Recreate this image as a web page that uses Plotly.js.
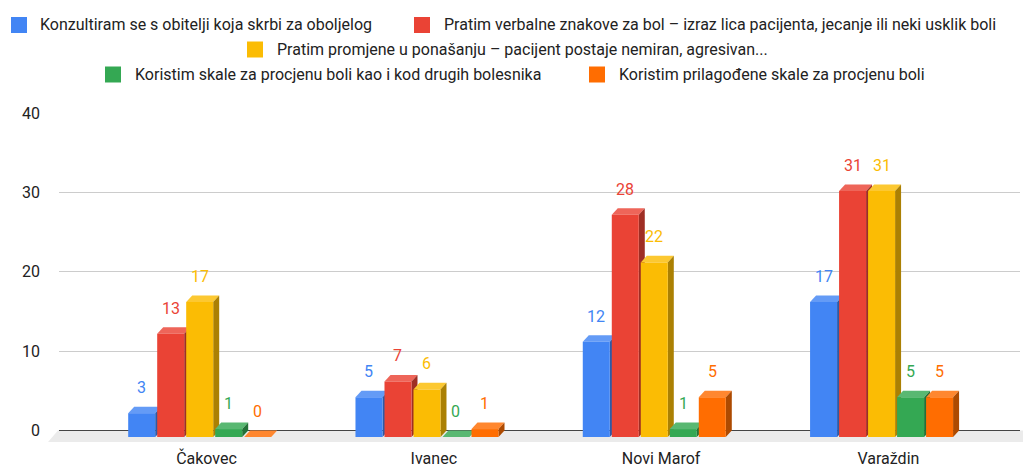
<!DOCTYPE html>
<html>
<head>
<meta charset="utf-8">
<script src="https://cdn.plot.ly/plotly-3.0.1.min.js"></script>
<style>html,body{margin:0;padding:0;background:#fff;}#chart{width:1023px;height:468px;}</style>
</head>
<body>
<div id="chart"></div>
<script>
// ---- data ----
const categories = ['Čakovec', 'Ivanec', 'Novi Marof', 'Varaždin'];
const seriesNames = [
  'Konzultiram se s obitelji koja skrbi za oboljelog',
  'Pratim verbalne znakove za bol – izraz lica pacijenta, jecanje ili neki usklik boli',
  'Pratim promjene u ponašanju – pacijent postaje nemiran, agresivan...',
  'Koristim skale za procjenu boli kao i kod drugih bolesnika',
  'Koristim prilagođene skale za procjenu boli'
];
const konzultiram = [3, 5, 12, 17];
const verbalniZnakovi = [13, 7, 28, 31];
const promjenePonasanja = [17, 6, 22, 31];
const skaleKaoDrugi = [1, 0, 1, 5];
const prilagodeneSkale = [0, 1, 5, 5];
const yTickVals = [0, 10, 20, 30, 40];

// ---- style ----
const seriesValues = [konzultiram, verbalniZnakovi, promjenePonasanja, skaleKaoDrugi, prilagodeneSkale];
const colors = ['#4285f4', '#ea4335', '#fbbc04', '#34a853', '#ff6d01'];
const FONT = 'Roboto, Arial, sans-serif';
const FS = 16;
const W = 1023, H = 468;
const M = { l: 59, r: 3, t: 113, b: 26 };
const PW = W - M.l - M.r, PH = H - M.t - M.b;
const SLOT = 0.1276;      // x units per bar slot
const BARW = 0.1188;      // front face width
const DX = 0.0264;        // depth in x units
const DY = 0.82;          // depth in y units
const YMIN = -1.45, YMAX = 40;
const XMIN = -0.619, XMAX = 3.609;
// legend layout: [swatch left px, text left px, row center px]
const legendPos = [[11, 38, 25], [414, 442, 25], [247, 275, 49.5], [105, 133, 74.5], [589, 617, 74.5]];

function shade(hex, f) {
  const n = parseInt(hex.slice(1), 16);
  let r = (n >> 16) & 255, g = (n >> 8) & 255, b = n & 255;
  if (f >= 0) { r += (255 - r) * f; g += (255 - g) * f; b += (255 - b) * f; }
  else { r *= (1 + f); g *= (1 + f); b *= (1 + f); }
  return 'rgb(' + Math.round(r) + ',' + Math.round(g) + ',' + Math.round(b) + ')';
}
const px2x = p => (p - M.l) / PW;
const px2y = p => (H - M.b - p) / PH;

const xIdx = categories.map((c, i) => i);
const traces = [];
const shapes = [];
const annotations = [];

// floor
const floorTop = (0 - YMIN) / (YMAX - YMIN);
shapes.push({
  type: 'path', xref: 'paper', yref: 'paper', layer: 'below',
  path: 'M' + px2x(48) + ',0 L' + px2x(58) + ',' + floorTop + ' L' + px2x(1023) + ',' + floorTop + ' L' + px2x(1023) + ',0 Z',
  fillcolor: '#ebebeb', line: { width: 0 }
});

seriesValues.forEach((vals, j) => {
  const off = (j - 2) * SLOT - BARW / 2;
  traces.push({
    type: 'bar', name: seriesNames[j], x: xIdx, y: vals,
    base: vals.map(() => -DY), offset: off, width: BARW,
    marker: { color: colors[j], line: { width: 0 } },
    showlegend: false, hoverinfo: 'skip'
  });
  vals.forEach((v, i) => {
    const x0 = i + off, x1 = x0 + BARW;
    const yt = v - DY;
    shapes.push({
      type: 'path', xref: 'x', yref: 'y', layer: 'between',
      path: `M${x0},${yt} L${x0 + DX},${v} L${x1 + DX},${v} L${x1},${yt} Z`,
      fillcolor: shade(colors[j], 0.18), line: { width: 0 }
    });
    shapes.push({
      type: 'path', xref: 'x', yref: 'y', layer: 'between',
      path: `M${x1},${-DY} L${x1 + DX},0 L${x1 + DX},${v} L${x1},${yt} Z`,
      fillcolor: shade(colors[j], -0.32), line: { width: 0 }
    });
    annotations.push({
      x: i + (j - 2) * SLOT, y: v, xref: 'x', yref: 'y',
      text: String(v), showarrow: false, yshift: 19, yanchor: 'middle',
      font: { family: FONT, size: FS, color: colors[j] }
    });
  });
  // legend entry
  const [sx, tx, cy] = legendPos[j];
  shapes.push({
    type: 'rect', xref: 'paper', yref: 'paper', layer: 'above',
    x0: px2x(sx), x1: px2x(sx + 16), y0: px2y(cy + 8), y1: px2y(cy - 8),
    fillcolor: colors[j], line: { width: 0 }
  });
  annotations.push({
    xref: 'paper', yref: 'paper', x: px2x(tx), y: px2y(cy),
    xanchor: 'left', yanchor: 'middle', showarrow: false,
    text: seriesNames[j], font: { family: FONT, size: FS, color: '#222' }
  });
});

const layout = {
  width: W, height: H,
  margin: M,
  paper_bgcolor: '#fff', plot_bgcolor: '#fff',
  font: { family: FONT, size: FS, color: '#222' },
  barmode: 'group',
  showlegend: false,
  xaxis: {
    type: 'linear', range: [XMIN, XMAX], automargin: false,
    tickvals: xIdx.map(i => i + 0.03), ticktext: categories,
    showgrid: false, zeroline: false, showline: false, ticks: '',
    ticklabelstandoff: 5,
    tickfont: { family: FONT, size: FS, color: '#222' }
  },
  yaxis: {
    range: [YMIN, YMAX], tickvals: yTickVals, automargin: false,
    showgrid: true, gridcolor: '#cccccc', gridwidth: 1,
    zeroline: true, zerolinecolor: '#444', zerolinewidth: 1.5,
    showline: false, ticks: '', ticklabelstandoff: 18,
    tickfont: { family: FONT, size: FS, color: '#222' }
  },
  shapes: shapes,
  annotations: annotations
};

Plotly.newPlot('chart', traces, layout, { displayModeBar: false, staticPlot: true });
</script>
</body>
</html>
